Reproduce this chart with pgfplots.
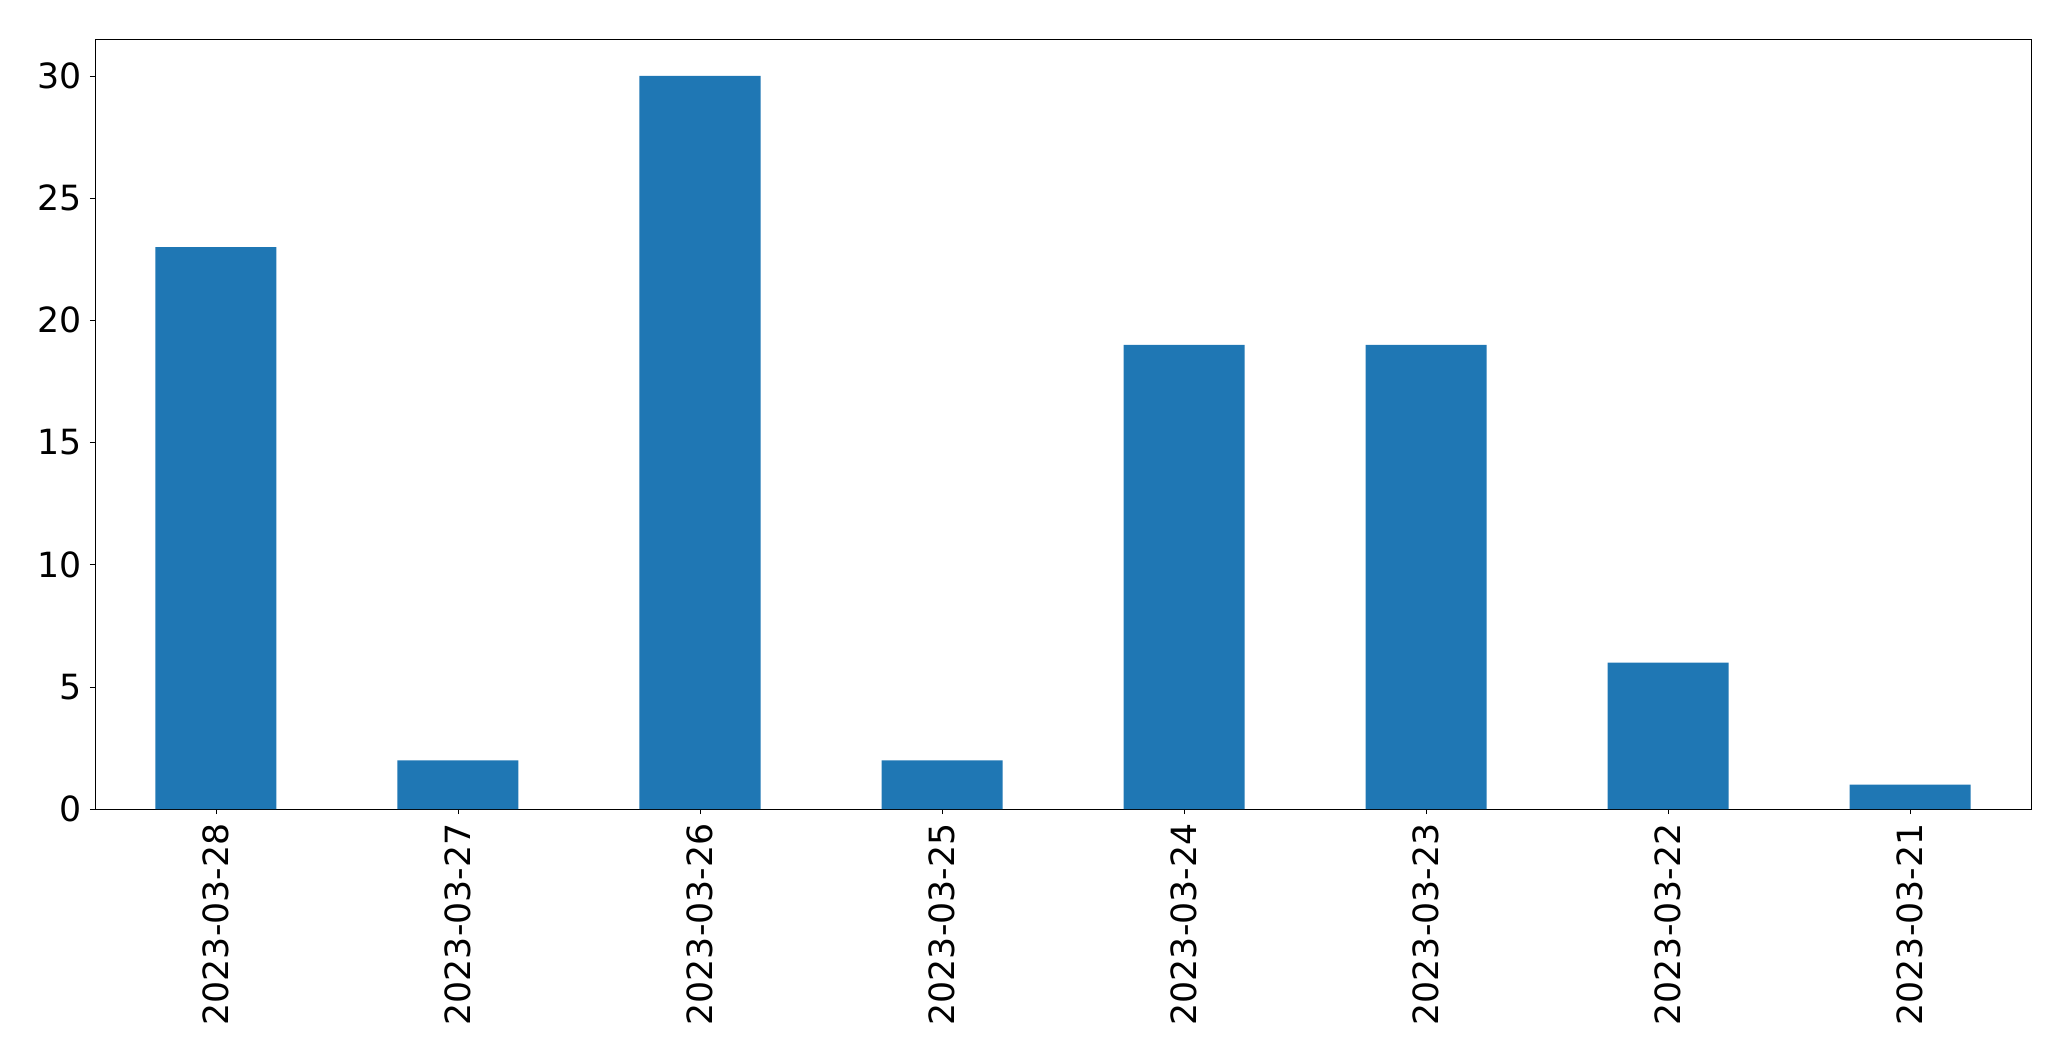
\documentclass[border=0pt]{standalone}
\usepackage{pgfplots}
\pgfplotsset{compat=1.18}
\usepackage{fontspec}
\setmainfont{DejaVu Sans}
\definecolor{mplblue}{HTML}{1F77B4}
\begin{document}
\begin{tikzpicture}
\begin{axis}[
  name=ax,
  scale only axis,
  width=1394.2pt, height=554.4pt,
  xmin=-0.5, xmax=7.5, ymin=0, ymax=31.5,
  xtick={0,1,2,3,4,5,6,7},
  xticklabels={2023-03-28,2023-03-27,2023-03-26,2023-03-25,2023-03-24,2023-03-23,2023-03-22,2023-03-21},
  ytick={0,5,10,15,20,25,30},
  x tick label style={rotate=90, anchor=east},
  tick label style={font=\fontsize{25}{30}\selectfont},
  /pgf/number format/assume math mode=true,
  tick align=outside, tick pos=left,
  major tick length=3.6pt,
  xtick style={black, line width=0.6pt},
  ytick style={black, line width=0.6pt},
  axis line style={line width=0.6pt},
  xticklabel shift=3.2pt, yticklabel shift=2.5pt,
]
\addplot[ybar, bar width=0.5, fill=mplblue, draw=none] coordinates {
(0,23) (1,2) (2,30) (3,2) (4,19) (5,19) (6,6) (7,1)
};
\end{axis}
\pgfresetboundingbox
\path ([shift={(-68.4pt,-181.2pt)}]ax.south west) rectangle ([shift={(28.8pt,28.3pt)}]ax.north east);
\end{tikzpicture}
\end{document}
